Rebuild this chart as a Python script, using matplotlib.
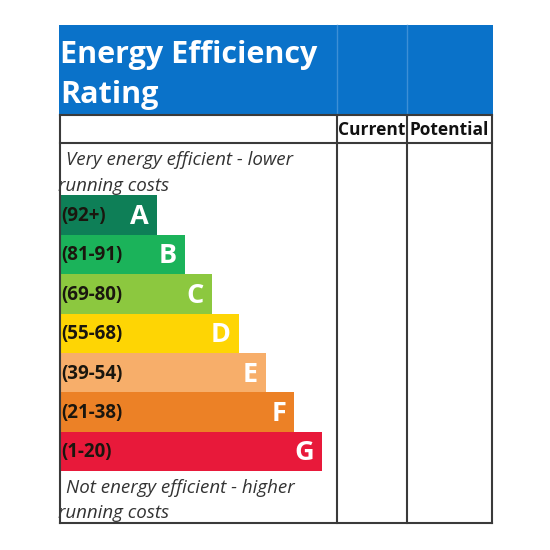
import matplotlib
matplotlib.use("Agg")
import matplotlib.pyplot as plt
from matplotlib.patches import Rectangle

# ---- data ----
ratings = ["A", "B", "C", "D", "E", "F", "G"]
ranges = ["(92+)", "(81-91)", "(69-80)", "(55-68)", "(39-54)", "(21-38)", "(1-20)"]
bar_lengths = [97, 125, 152, 179, 206, 234, 262]
colors = ["#0e7f57", "#1bb35a", "#8cc83f", "#fed504", "#f7ae6a", "#ec8126", "#e8193a"]
title_lines = ["Energy Efficiency", "Rating"]
col_headers = ["Current", "Potential"]
top_note = ["Very energy efficient - lower", "running costs"]
bottom_note = ["Not energy efficient - higher", "running costs"]

plt.rcParams['font.family'] = ['Open Sans', 'DejaVu Sans']

fig = plt.figure(figsize=(5.5, 5.5), dpi=100)
ax = fig.add_axes([0, 0, 1, 1])
ax.set_xlim(0, 550)
ax.set_ylim(550, 0)
ax.axis('off')

L, C1, C2, R = 60, 337, 407, 492
TOP, HB, HR, BOT = 25, 115, 143, 523
line_c = "#3a3a3a"
blue = "#0a72c9"

# blue header
ax.add_patch(Rectangle((L - 1, TOP), R - L + 2, HB - TOP, color=blue, lw=0, zorder=1))
for xv in (C1, C2):
    ax.plot([xv, xv], [TOP, HB], color="#3d8fd6", lw=1.0, zorder=2)
ax.text(L, 63, title_lines[0], color="white", fontsize=22, fontweight="bold",
        ha="left", va="baseline", zorder=3)
ax.text(L, 103, title_lines[1], color="white", fontsize=22, fontweight="bold",
        ha="left", va="baseline", zorder=3)

# table lines
lw = 1.5
for yv in (HB, HR, BOT):
    ax.plot([L, R], [yv, yv], color=line_c, lw=lw, zorder=4, solid_capstyle="projecting")
for xv in (L, C1, C2, R):
    ax.plot([xv, xv], [HB, BOT], color=line_c, lw=lw, zorder=4, solid_capstyle="projecting")

# column headers
ax.text((C1 + C2) / 2, 135, col_headers[0], fontsize=12.5, fontweight="bold",
        ha="center", va="baseline", color="#111111", zorder=5)
ax.text((C2 + R) / 2, 135, col_headers[1], fontsize=12.5, fontweight="bold",
        ha="center", va="baseline", color="#111111", zorder=5)

# notes
note_c = "#333333"
fs_note = 13.5
ax.text(66, 165, top_note[0], fontsize=fs_note, style="italic", ha="left", va="baseline", color=note_c)
ax.text(58, 191, top_note[1], fontsize=fs_note, style="italic", ha="left", va="baseline", color=note_c)
ax.text(66, 493, bottom_note[0], fontsize=fs_note, style="italic", ha="left", va="baseline", color=note_c)
ax.text(58, 518, bottom_note[1], fontsize=fs_note, style="italic", ha="left", va="baseline", color=note_c)

# bars
y0, pitch = 215, 39.4
ys = [y0 + i * pitch for i in range(len(ratings))]
ax.barh(ys, bar_lengths, left=L, height=pitch, color=colors, zorder=3, lw=0)
for y, w, r, rg in zip(ys, bar_lengths, ratings, ranges):
    ax.text(L + 1, y + 6, rg, fontsize=13.5, fontweight="bold", ha="left", va="baseline",
            color="#1a160e", zorder=5)
    ax.text(L + w - 8, y + 9, r, fontsize=19.5, fontweight="bold", ha="right", va="baseline",
            color="white", zorder=5)

fig.savefig("out.png", dpi=100, facecolor="white")
